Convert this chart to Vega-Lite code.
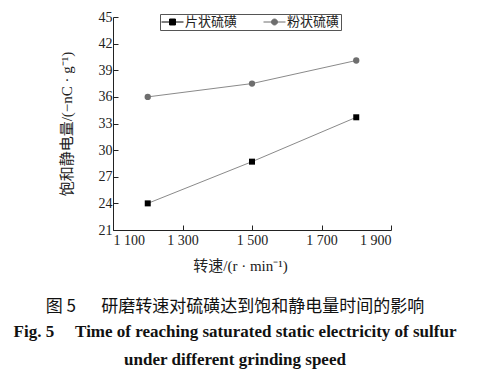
{
  "$schema": "https://vega.github.io/schema/vega-lite/v6.json",
  "width": 278,
  "height": 213,
  "autosize": "none",
  "padding": {"left": 113, "top": 17, "right": 90, "bottom": 156},
  "background": "white",
  "data": {"values": [
    {"speed": 1200, "value": 24.0, "series": "片状硫磺"},
    {"speed": 1500, "value": 28.7, "series": "片状硫磺"},
    {"speed": 1800, "value": 33.7, "series": "片状硫磺"},
    {"speed": 1200, "value": 36.0, "series": "粉状硫磺"},
    {"speed": 1500, "value": 37.5, "series": "粉状硫磺"},
    {"speed": 1800, "value": 40.1, "series": "粉状硫磺"}
  ]},
  "title": {
    "text": "图 5\u2003\u2002研磨转速对硫磺达到饱和静电量时间的影响",
    "subtitle": ["Fig. 5\u2003 Time of reaching saturated static electricity of sulfur", "under different grinding speed"],
    "orient": "bottom",
    "anchor": "middle",
    "frame": "group",
    "dx": -17,
    "offset": 26,
    "font": "Noto Sans CJK SC",
    "fontSize": 17,
    "fontWeight": "normal",
    "color": "#111",
    "subtitleFont": "Liberation Serif",
    "subtitleFontSize": 17,
    "subtitleFontWeight": "bold",
    "subtitleColor": "#111",
    "subtitlePadding": 8,
    "subtitleLineHeight": 28
  },
  "config": {
    "view": {"stroke": null},
    "font": "Liberation Serif, Noto Sans CJK SC",
    "axis": {
      "grid": false,
      "domainColor": "#222",
      "tickColor": "#222",
      "labelFont": "Liberation Serif",
      "labelFontSize": 14,
      "labelColor": "#222",
      "labelOverlap": false,
      "labelBound": false,
      "titleFont": "Liberation Serif, Noto Sans CJK SC",
      "titleFontSize": 15,
      "titleFontWeight": "normal",
      "titleColor": "#222"
    }
  },
  "encoding": {
    "x": {
      "field": "speed", "type": "quantitative",
      "scale": {"domain": [1100, 1900], "nice": false, "zero": false},
      "axis": {
        "values": [1100, 1300, 1500, 1700, 1900],
        "labelExpr": "replace(format(datum.value, ','), ',', ' ')",
        "tickSize": -5,
        "labelPadding": 8,
        "title": "转速/(r · min⁻¹)",
        "titlePadding": 11,
        "titleX": 127
      }
    },
    "y": {
      "field": "value", "type": "quantitative",
      "scale": {"domain": [21, 45], "nice": false, "zero": false},
      "axis": {
        "values": [21, 24, 27, 30, 33, 36, 39, 42, 45],
        "tickSize": -5,
        "labelPadding": 6,
        "title": "饱和静电量/(−nC · g⁻¹)",
        "titlePadding": 24
      }
    }
  },
  "layer": [
    {
      "mark": {"type": "line", "color": "#8a8a8a", "strokeWidth": 1},
      "encoding": {"detail": {"field": "series"}}
    },
    {
      "transform": [{"filter": "datum.series === '片状硫磺'"}],
      "mark": {"type": "point", "shape": "square", "filled": true, "size": 36, "opacity": 1, "color": "#000000"}
    },
    {
      "transform": [{"filter": "datum.series === '粉状硫磺'"}],
      "mark": {"type": "point", "shape": "circle", "filled": true, "size": 40, "opacity": 1, "color": "#6e6e6e"}
    },
    {
      "mark": {"type": "point", "filled": true, "opacity": 0},
      "encoding": {
        "color": {
          "field": "series", "type": "nominal",
          "scale": {"domain": ["片状硫磺", "粉状硫磺"], "range": ["#000000", "#6e6e6e"]},
          "legend": {
            "orient": "none",
            "legendX": 47,
            "legendY": -3,
            "direction": "horizontal",
            "title": null,
            "padding": 1,
            "clipHeight": 14,
            "strokeColor": "#555",
            "fillColor": "white",
            "labelFont": "Noto Sans CJK SC",
            "labelFontSize": 13,
            "labelColor": "#222",
            "labelOffset": 1,
            "columnPadding": 25,
            "symbolSize": 484,
            "symbolOpacity": 1,
            "symbolStrokeWidth": 1,
            "encode": {"symbols": {"update": {"opacity": {"value": 1}}}}
          }
        },
        "stroke": {
          "field": "series", "type": "nominal",
          "scale": {"domain": ["片状硫磺", "粉状硫磺"], "range": ["#000000", "#6e6e6e"]}
        },
        "shape": {
          "field": "series", "type": "nominal",
          "scale": {"domain": ["片状硫磺", "粉状硫磺"], "range": ["M-1,0H1M-0.27,-0.27H0.27V0.27H-0.27Z", "M-1,0H-0.27A0.27,0.27 0 1,1 0.27,0H1M0.27,0A0.27,0.27 0 1,1 -0.27,0"]}
        }
      }
    }
  ]
}
